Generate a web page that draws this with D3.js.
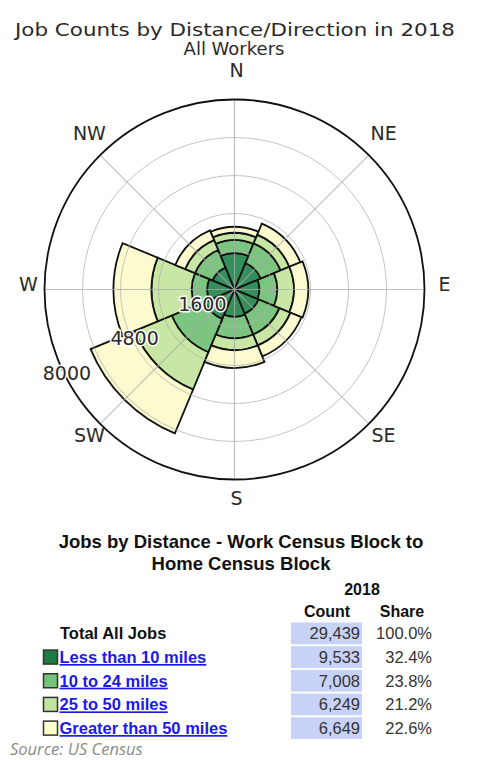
<!DOCTYPE html>
<html>
<head>
<meta charset="utf-8">
<script src="https://cdn.jsdelivr.net/npm/d3@7"></script>
<style>
  body { margin: 0; background: #fff; }
  svg { display: block; }
</style>
</head>
<body>
<svg width="485" height="760"></svg>
<script>
// chart data
var directions = ["N", "NE", "E", "SE", "S", "SW", "W", "NW"]
var distanceKeys = ["Less than 10 miles", "10 to 24 miles", "25 to 50 miles", "Greater than 50 miles"]
var lessThan10 = [1533, 1200, 1050, 1100, 1150, 1350, 1150, 1000]
var from10to24 = [550, 900, 750, 950, 900, 1508, 650, 800]
var from25to50 = [300, 400, 700, 500, 500, 1700, 1700, 449]
var over50 = [250, 500, 600, 500, 750, 2000, 1600, 449]
var ringTicks = [1600, 3200, 4800, 6400, 8000]
var ringLabels = [1600, 4800, 8000]

// table data
var tableLabels = ["Total All Jobs"].concat(distanceKeys)
var tableCounts = [29439, 9533, 7008, 6249, 6649]
var tableShares = ["100.0%", "32.4%", "23.8%", "21.2%", "22.6%"]

var barColors = ["#358f5c", "#7cc580", "#c8e6a4", "#fbfbcf"]
var swatchColors = ["#1f7b44", "#74c27a", "#c3e3a0", "#ffffcc"]

var svg = d3.select("svg")

// titles
svg.append("text")
  .attr("x", 235).attr("y", 36)
  .attr("text-anchor", "middle")
  .attr("font-family", "DejaVu Sans")
  .attr("font-size", 18)
  .attr("fill", "#2a2a2a")
  .attr("textLength", 440).attr("lengthAdjust", "spacingAndGlyphs")
  .text("Job Counts by Distance/Direction in 2018")

svg.append("text")
  .attr("x", 234).attr("y", 55)
  .attr("text-anchor", "middle")
  .attr("font-family", "DejaVu Sans")
  .attr("font-size", 18)
  .attr("fill", "#2a2a2a")
  .text("All Workers")

// polar chart
var cx = 234.5, cy = 289.5
var g = svg.append("g").attr("transform", "translate(" + cx + "," + cy + ")")

var r = d3.scaleLinear().domain([0, 8000]).range([0, 190])
var step = 2 * Math.PI / directions.length

var rows = directions.map(function (d, i) {
  return { dir: d, a: lessThan10[i], b: from10to24[i], c: from25to50[i], d: over50[i] }
})
var stack = d3.stack().keys(["a", "b", "c", "d"])
var series = stack(rows)

var arc = d3.arc()
  .innerRadius(function (d) { return r(d[0]) })
  .outerRadius(function (d) { return r(d[1]) })
  .startAngle(function (d) { return directions.indexOf(d.data.dir) * step - step / 2 })
  .endAngle(function (d) { return directions.indexOf(d.data.dir) * step + step / 2 })

var barLayer = g.append("g")
series.forEach(function (s, k) {
  barLayer.append("g")
    .selectAll("path")
    .data(s)
    .enter().append("path")
      .attr("d", arc)
      .attr("fill", barColors[k])
      .attr("stroke", "#111")
      .attr("stroke-width", 1.8)
})

// grid on top (light)
var grid = g.append("g")
grid.selectAll("circle.ring")
  .data(ringTicks.slice(0, -1))
  .enter().append("circle")
    .attr("r", function (d) { return r(d) })
    .attr("fill", "none")
    .attr("stroke", "#b0b0b0")
    .attr("stroke-opacity", 0.75)
    .attr("stroke-width", 1)

grid.selectAll("line")
  .data(directions)
  .enter().append("line")
    .attr("x1", 0).attr("y1", 0)
    .attr("x2", function (d, i) { return r(8000) * Math.sin(i * step) })
    .attr("y2", function (d, i) { return -r(8000) * Math.cos(i * step) })
    .attr("stroke", "#aaa")
    .attr("stroke-opacity", 0.75)
    .attr("stroke-width", 1.2)

g.append("circle")
  .attr("r", r(8000))
  .attr("fill", "none")
  .attr("stroke", "#111")
  .attr("stroke-width", 1.8)

// ring labels
var labAngle = (270 - 27) * Math.PI / 180
g.selectAll("text.ring")
  .data(ringLabels)
  .enter().append("text")
    .attr("class", "ring")
    .attr("x", function (d) { return (r(d) - 3) * Math.sin(labAngle) - 1 })
    .attr("y", function (d) { return -(r(d) - 3) * Math.cos(labAngle) - 1.5 })
    .attr("dy", "0.35em")
    .attr("text-anchor", "middle")
    .attr("font-family", "DejaVu Sans")
    .attr("font-size", 19)
    .attr("fill", "#2a2a2a")
    .attr("stroke", "#fff")
    .attr("stroke-width", 3)
    .attr("paint-order", "stroke")
    .text(function (d) { return d })

// compass labels
svg.append("g").selectAll("text")
  .data(directions)
  .enter().append("text")
    .attr("x", function (d, i) { return 236.5 + 208 * Math.sin(i * step) })
    .attr("y", function (d, i) { return 284.5 - 214 * Math.cos(i * step) })
    .attr("dy", "0.35em")
    .attr("text-anchor", "middle")
    .attr("font-family", "DejaVu Sans")
    .attr("font-size", 19)
    .attr("fill", "#2a2a2a")
    .text(function (d) { return d })

// table
var t = svg.append("g").attr("font-family", "Liberation Sans, Arial, sans-serif")

t.append("text")
  .attr("x", 241).attr("y", 548)
  .attr("text-anchor", "middle")
  .attr("font-size", 18.5).attr("font-weight", "bold").attr("fill", "#111")
  .text("Jobs by Distance - Work Census Block to")
t.append("text")
  .attr("x", 241).attr("y", 570)
  .attr("text-anchor", "middle")
  .attr("font-size", 18.5).attr("font-weight", "bold").attr("fill", "#111")
  .text("Home Census Block")

t.append("text")
  .attr("x", 362).attr("y", 595)
  .attr("text-anchor", "middle")
  .attr("font-size", 16).attr("font-weight", "bold").attr("fill", "#111")
  .text("2018")
t.append("text")
  .attr("x", 327).attr("y", 617)
  .attr("text-anchor", "middle")
  .attr("font-size", 16).attr("font-weight", "bold").attr("fill", "#111")
  .text("Count")
t.append("text")
  .attr("x", 402).attr("y", 617)
  .attr("text-anchor", "middle")
  .attr("font-size", 16).attr("font-weight", "bold").attr("fill", "#111")
  .text("Share")

var rowY = d3.scaleBand().domain(d3.range(tableLabels.length)).range([622.5, 739]).paddingInner(0.08)

var tRows = t.selectAll("g.row")
  .data(tableLabels)
  .enter().append("g")
    .attr("transform", function (d, i) { return "translate(0," + rowY(i) + ")" })

tRows.append("rect")
  .attr("x", 291).attr("width", 71)
  .attr("height", rowY.bandwidth())
  .attr("fill", "#c8d2f6")

tRows.append("text")
  .attr("x", 360).attr("y", rowY.bandwidth() / 2)
  .attr("dy", "0.36em")
  .attr("text-anchor", "end")
  .attr("font-size", 16.5).attr("fill", "#333")
  .text(function (d, i) { return d3.format(",")(tableCounts[i]) })

tRows.append("text")
  .attr("x", 432).attr("y", rowY.bandwidth() / 2)
  .attr("dy", "0.36em")
  .attr("text-anchor", "end")
  .attr("font-size", 16.5).attr("fill", "#333")
  .text(function (d, i) { return tableShares[i] })

tRows.filter(function (d, i) { return i === 0 }).append("text")
  .attr("x", 60).attr("y", rowY.bandwidth() / 2)
  .attr("dy", "0.36em")
  .attr("font-size", 16.5).attr("font-weight", "bold").attr("fill", "#111")
  .text(function (d) { return d })

var linkRows = tRows.filter(function (d, i) { return i > 0 })
linkRows.append("rect")
  .attr("x", 43.5).attr("y", rowY.bandwidth() / 2 - 7)
  .attr("width", 14).attr("height", 14)
  .attr("fill", function (d, i) { return swatchColors[i] })
  .attr("stroke", "#333").attr("stroke-width", 1.5)

linkRows.append("text")
  .attr("x", 59.5).attr("y", rowY.bandwidth() / 2)
  .attr("dy", "0.36em")
  .attr("font-size", 16.5).attr("font-weight", "bold").attr("fill", "#1a1ae6")
  .attr("text-decoration", "underline")
  .text(function (d) { return d })

svg.append("text")
  .attr("x", 10).attr("y", 755)
  .attr("font-family", "Open Sans")
  .attr("font-style", "italic")
  .attr("font-size", 16.5)
  .attr("fill", "#8a8a8a")
  .text("Source: US Census")
</script>
</body>
</html>
